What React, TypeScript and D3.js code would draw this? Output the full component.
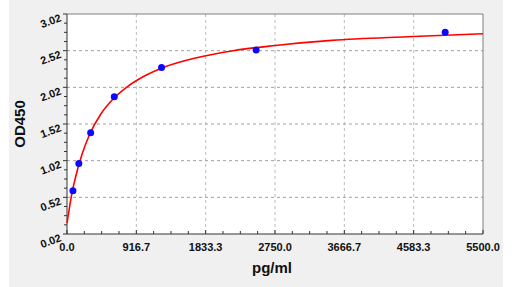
import React from "react";
import * as d3 from "d3";

const concentrations = [78.125, 156.25, 312.5, 625, 1250, 2500, 5000];
const odValues = [0.61, 0.98, 1.40, 1.89, 2.29, 2.53, 2.77];

const curveX = [0, 25, 50, 100, 200, 300, 450, 600, 800, 1000, 1300, 1700, 2200, 2750, 3500, 4500, 5500];
const curveY = [0.17, 0.33, 0.49, 0.74, 1.11, 1.38, 1.66, 1.85, 2.03, 2.16, 2.30, 2.42, 2.52, 2.59, 2.66, 2.71, 2.75];

const xTickLabels = ["0.0", "916.7", "1833.3", "2750.0", "3666.7", "4583.3", "5500.0"];
const yTickLabels = ["0.02", "0.52", "1.02", "1.52", "2.02", "2.52", "3.02"];

const W = 531;
const H = 287;
const L = 67, R = 483, T = 14, B = 234;

export default function App() {
  const x = d3.scaleLinear().domain([0, 5500]).range([L, R]);
  const y = d3.scaleLinear().domain([0.02, 3.02]).range([B, T]);

  const xTicks = xTickLabels.map((s) => +s);
  const yTicks = yTickLabels.map((s) => +s);
  const xMinor: number[] = [];
  for (let i = 0; i < xTicks.length - 1; i++) {
    const step = (xTicks[i + 1] - xTicks[i]) / 4;
    for (let k = 1; k < 4; k++) xMinor.push(xTicks[i] + step * k);
  }
  const yMinor: number[] = [];
  for (let i = 0; i < yTicks.length - 1; i++) {
    const step = (yTicks[i + 1] - yTicks[i]) / 4;
    for (let k = 1; k < 4; k++) yMinor.push(yTicks[i] + step * k);
  }

  const line = d3
    .line<number>()
    .x((_, i) => x(curveX[i]))
    .y((d) => y(d))
    .curve(d3.curveMonotoneX);

  const font = "Arial, 'Liberation Sans', sans-serif";

  return (
    <svg
      width={W}
      height={H}
      style={{ position: "absolute", left: 0, top: 0 }}
      fontFamily={font}
    >
      <rect x={0} y={0} width={W} height={H} fill="#ffffff" />
      <rect x={9} y={0} width={494} height={H} fill="#f0f0f0" />
      <rect x={L} y={T} width={R - L} height={B - T} fill="#ffffff" />

      {/* grid */}
      {xTicks.slice(1, -1).map((t, i) => (
        <line key={"gx" + i} x1={x(t)} x2={x(t)} y1={T} y2={B} stroke="#bbbbbb" strokeDasharray="3,3" strokeWidth={1} />
      ))}
      {yTicks.slice(1, -1).map((t, i) => (
        <line key={"gy" + i} x1={L} x2={R} y1={y(t)} y2={y(t)} stroke="#a0a0a0" strokeDasharray="3,3" strokeWidth={1} />
      ))}

      {/* border */}
      <line x1={L} x2={R} y1={T} y2={T} stroke="#808080" />
      <line x1={R} x2={R} y1={T} y2={B} stroke="#808080" />
      <line x1={L} x2={L} y1={T} y2={B} stroke="#333" />
      <line x1={L} x2={R} y1={B} y2={B} stroke="#333" />

      {/* x ticks */}
      {xTicks.map((t, i) => (
        <line key={"xt" + i} x1={x(t)} x2={x(t)} y1={B} y2={B - 4} stroke="#333" />
      ))}
      {xMinor.map((t, i) => (
        <line key={"xm" + i} x1={x(t)} x2={x(t)} y1={B} y2={B - 3} stroke="#333" />
      ))}
      {xTicks.map((t, i) => (
        <text key={"xl" + i} x={x(t)} y={B + 17} textAnchor="middle" fontSize={11} fontWeight="bold" fill="#111">
          {xTickLabels[i]}
        </text>
      ))}

      {/* y ticks */}
      {yTicks.map((t, i) => (
        <line key={"yt" + i} x1={L - 4} x2={L} y1={y(t)} y2={y(t)} stroke="#333" />
      ))}
      {yMinor.map((t, i) => (
        <line key={"ym" + i} x1={L - 3} x2={L} y1={y(t)} y2={y(t)} stroke="#333" />
      ))}
      {yTicks.map((t, i) => (
        <text
          key={"yl" + i}
          x={61}
          y={y(t) + 7}
          textAnchor="end"
          fontSize={11}
          fontWeight="bold"
          fill="#111"
          transform={`rotate(-20, 61, ${y(t) + 4})`}
        >
          {yTickLabels[i]}
        </text>
      ))}

      {/* axis titles */}
      <text x={272} y={273} textAnchor="middle" fontSize={15} fontWeight="bold" fill="#111">
        pg/ml
      </text>
      <text
        x={0}
        y={0}
        textAnchor="middle"
        fontSize={15}
        fontWeight="bold"
        fill="#111"
        transform={`translate(25, ${(T + B) / 2}) rotate(-90)`}
      >
        OD450
      </text>

      {/* curve */}
      <path d={line(curveY) || ""} fill="none" stroke="#ff0000" strokeWidth={1.6} />

      {/* points */}
      {concentrations.map((c, i) => (
        <circle key={"p" + i} cx={x(c)} cy={y(odValues[i])} r={3.5} fill="#0a0aff" />
      ))}
    </svg>
  );
}
